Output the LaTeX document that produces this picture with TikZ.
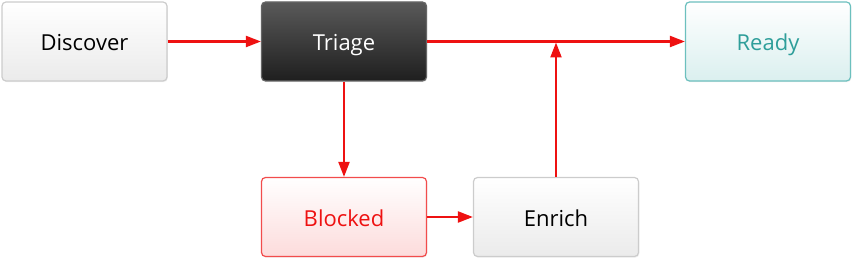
\documentclass[tikz,border=0pt]{standalone}
\usepackage{fontspec}
\setmainfont{Open Sans}
\usepackage{xcolor}
\usetikzlibrary{arrows.meta, positioning, shadows}
\definecolor{flowred}{HTML}{EE1111}
\definecolor{tealtext}{HTML}{2E9E9A}
\definecolor{tealborder}{HTML}{6CC0BE}

\begin{document}
\begin{tikzpicture}[x=1pt,y=-1pt,
  stage/.style={draw=black!20, rounded corners=4pt, minimum width=165pt, minimum height=79pt,
    top color=white, bottom color=black!8, line width=1.2pt, font=\fontsize{22}{26}\selectfont,
    text height=22pt, text depth=3pt,
    drop shadow={opacity=0.12, shadow xshift=0.8pt, shadow yshift=-1.2pt}},
  darkstage/.style={stage, draw=black!60, top color=black!65, bottom color=black!88, text=white},
  readystage/.style={stage, draw=tealborder, top color=white, bottom color=tealborder!25, text=tealtext},
  blockstage/.style={stage, draw=flowred!75, top color=white, bottom color=flowred!15, text=flowred},
  flow/.style={draw=flowred, line width=2.2pt, -{Triangle[length=15pt,width=11pt]}}]
\useasboundingbox (0,0) rectangle (853,261);
% Stages
\node[stage] (discover) at (84.5,41.5) {Discover};
\node[darkstage] (triage) at (344,41.5) {Triage};
\node[readystage] (ready) at (768,41.5) {Ready};
\node[blockstage] (blocked) at (344,217) {Blocked};
\node[stage] (enrich) at (556,217) {Enrich};
\coordinate (join) at (556,42.5);
% Flows
\draw[flow] (discover) -- (triage);
\draw[flow] (triage) -- (ready);
\draw[flow] (triage) -- (blocked);
\draw[flow] (blocked) -- (enrich);
\draw[flow] (enrich) -- (join);
\end{tikzpicture}
\end{document}
